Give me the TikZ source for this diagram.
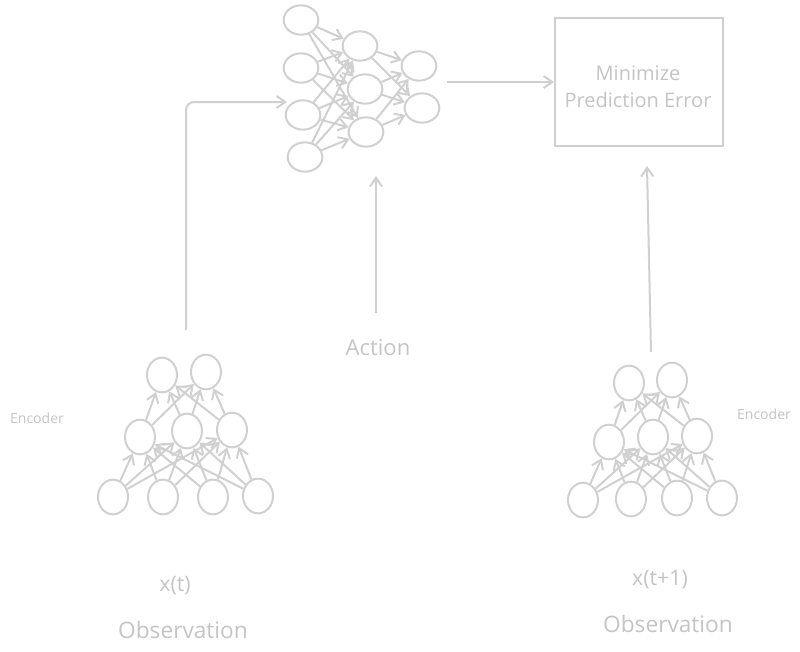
\documentclass[tikz,border=0pt]{standalone}
\usepackage{fontspec}
\setmainfont{Open Sans}
\usepackage{xcolor}
\usepackage{tikz}
\usetikzlibrary{arrows.meta}
\usetikzlibrary{shapes.geometric}
\definecolor{sketch}{HTML}{D0D0D0}
\definecolor{sketchtext}{HTML}{C4C4C4}
\tikzset{
  link/.style={sketch,line width=1.5pt,->,>={Straight Barb[length=6.5pt,width=9pt]}},
  neuronh/.style={ellipse,draw=sketch,line width=1.5pt,inner sep=0pt,minimum width=26pt,minimum height=22pt},
  neuronv/.style={ellipse,draw=sketch,line width=1.5pt,inner sep=0pt,minimum width=22.5pt,minimum height=26pt},
  lbl/.style={text=sketchtext,inner sep=0pt}
}

\begin{document}
\begin{tikzpicture} [x=0.75pt, y=-0.75pt]
\useasboundingbox (0,0) rectangle (800,651);
% predictor
\node[neuronh] (pa1) at (301,20) {};
\node[neuronh] (pa2) at (301,68) {};
\node[neuronh] (pa3) at (303,115) {};
\node[neuronh] (pa4) at (305,157) {};
\node[neuronh] (pb1) at (360,46) {};
\node[neuronh] (pb2) at (365,89) {};
\node[neuronh] (pb3) at (366,132) {};
\node[neuronh] (pc1) at (419,66) {};
\node[neuronh] (pc2) at (422,108) {};
\foreach \i in {1,...,4} {
  \foreach \j in {1,2,3} {
    \draw[link] (pa\i) -- (pb\j);
  }
}
\foreach \i in {1,2,3} {
  \foreach \j in {1,2} {
    \draw[link] (pb\i) -- (pc\j);
  }
}
% box
\node[draw=sketch,line width=1.5pt,minimum width=126pt,minimum height=96pt] (box) at (639,82) {};
\node[lbl,font=\fontsize{15}{17}\selectfont] (min) at (638,73) {Minimize};
\node[lbl,font=\fontsize{15}{17}\selectfont] (err) at (638,100) {Prediction Error};
% left encoder
\node[neuronv] (la1) at (113,497) {};
\node[neuronv] (la2) at (163,497) {};
\node[neuronv] (la3) at (213,497) {};
\node[neuronv] (la4) at (258,496) {};
\node[neuronv] (lb1) at (140,437) {};
\node[neuronv] (lb2) at (187,431) {};
\node[neuronv] (lb3) at (232,430) {};
\node[neuronv] (lc1) at (162,375) {};
\node[neuronv] (lc2) at (206,372) {};
% right encoder
\node[neuronv] (ra1) at (583,500) {};
\node[neuronv] (ra2) at (631,499) {};
\node[neuronv] (ra3) at (677,498) {};
\node[neuronv] (ra4) at (722,498) {};
\node[neuronv] (rb1) at (609,442) {};
\node[neuronv] (rb2) at (653,437) {};
\node[neuronv] (rb3) at (697,436) {};
\node[neuronv] (rc1) at (629,383) {};
\node[neuronv] (rc2) at (672,380) {};
\foreach \s in {l,r} {
  \foreach \i in {1,...,4} {
    \foreach \j in {1,2,3} {
      \draw[link] (\s a\i) -- (\s b\j);
    }
  }
  \foreach \i in {1,2,3} {
    \foreach \j in {1,2} {
      \draw[link] (\s b\i) -- (\s c\j);
    }
  }
}
% labels
\node[lbl,font=\fontsize{10.5}{12}\selectfont] (encl) at (37,418) {Encoder};
\node[lbl,font=\fontsize{10.5}{12}\selectfont] (encr) at (764,414) {Encoder};
\node[lbl,font=\fontsize{16}{18}\selectfont] (xt) at (175,586) {x(t)};
\node[lbl,font=\fontsize{17}{19}\selectfont] (obsl) at (183,630) {Observation};
\node[lbl,font=\fontsize{16}{18}\selectfont] (xtt) at (660,580) {x(t+1)};
\node[lbl,font=\fontsize{17}{19}\selectfont] (obsr) at (668,624) {Observation};
\node[lbl,font=\fontsize{16.5}{18}\selectfont] (action) at (378,348) {Action};
% connectors
\coordinate (lout) at (186,330);
\coordinate (pin) at (287,102);
\coordinate (pout) at (447,82);
\coordinate (aout) at (376,313);
\coordinate (ain) at (376,176);
\coordinate (rout) at (651,352);
\coordinate (rin) at (647,166);
\draw[link,rounded corners=6] (lout) |- (pin);
\draw[link] (pout) -- (box.west);
\draw[link] (aout) -- (ain);
\draw[link] (rout) -- (rin);
\end{tikzpicture}
\end{document}
